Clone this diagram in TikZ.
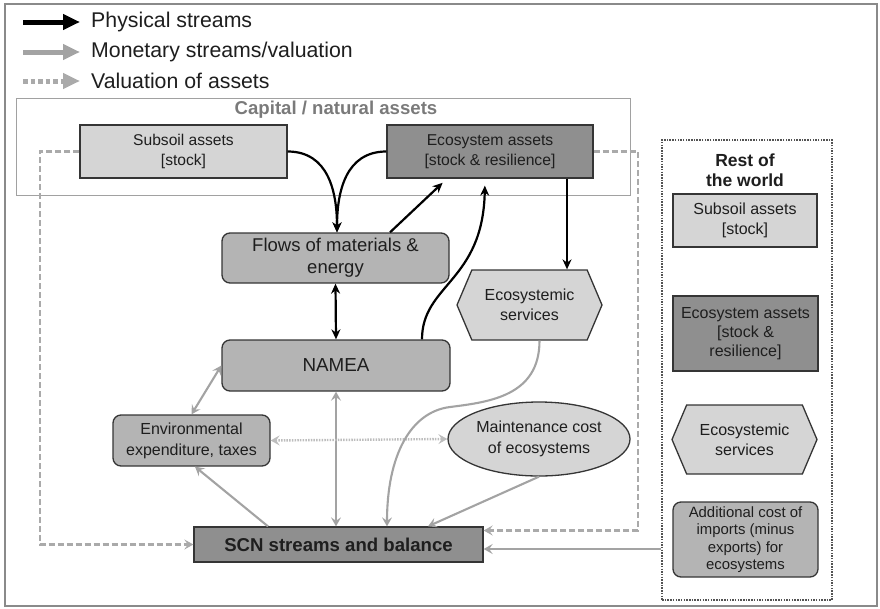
\documentclass[tikz,border=0pt]{standalone}
\usepackage{fontspec}
\setmainfont{Liberation Sans}
\usetikzlibrary{arrows.meta,shapes.geometric,shapes.symbols}

\definecolor{lightbox}{HTML}{D5D5D5}
\definecolor{midbox}{HTML}{B4B4B4}
\definecolor{darkbox}{HTML}{8F8F8F}
\definecolor{edgecol}{HTML}{353535}
\definecolor{monet}{HTML}{A3A3A3}
\definecolor{dashcol}{HTML}{AAAAAA}
\definecolor{dotcol}{HTML}{BDBDBD}
\definecolor{txt}{HTML}{1E1E1E}
\definecolor{frame}{HTML}{8A8A8A}
\definecolor{captitle}{HTML}{7A7A7A}

\tikzset{
  box/.style={draw=edgecol, line width=1.3pt, inner sep=0pt, align=center, text=txt},
  sqbox/.style={box, rectangle},
  rbox/.style={box, rectangle, rounded corners=8pt},
  hexa/.style={box, signal, signal to=east and west, signal pointer angle=134},
  phys/.style={draw=black, line width=2.2pt, -{Stealth[length=10pt,width=9pt]}},
  physboth/.style={draw=black, line width=2.2pt, {Stealth[length=10pt,width=9pt]}-{Stealth[length=10pt,width=9pt]}},
  mon/.style={draw=monet, line width=2.1pt, -{Stealth[length=9pt,width=10pt,inset=3.5pt]}},
  monboth/.style={draw=monet, line width=2.1pt, {Stealth[length=9pt,width=10pt,inset=3.5pt]}-{Stealth[length=9pt,width=10pt,inset=3.5pt]}},
  valdash/.style={draw=dashcol, line width=2.4pt, dash pattern=on 6pt off 3pt, -{Stealth[length=9pt,width=10pt,inset=3.5pt]}},
  dotboth/.style={draw=dotcol, line width=2.4pt, dash pattern=on 1.5pt off 1.2pt, {Stealth[length=9pt,width=10pt,inset=3.5pt]}-{Stealth[length=9pt,width=10pt,inset=3.5pt]}},
  legtext/.style={anchor=west, inner sep=0pt, text=txt, font=\fontsize{21.3}{25}\selectfont},
  f15/.style={font=\fontsize{15.6}{20}\selectfont},
  f16/.style={font=\fontsize{16}{21}\selectfont},
  f18/.style={font=\fontsize{18.5}{22}\selectfont},
}

\begin{document}
\begin{tikzpicture}[x=1pt,y=-1pt]
\useasboundingbox (0,0) rectangle (880,608);
% outer frame
\node[draw=frame, line width=1.4pt, minimum width=872pt, minimum height=602pt, inner sep=0pt] (outer) at (441,305) {};

% legend
\coordinate (l1a) at (23,22); \coordinate (l1b) at (80,22);
\coordinate (l2a) at (23,52); \coordinate (l2b) at (80,52);
\coordinate (l3a) at (23,81); \coordinate (l3b) at (80,81);
\draw[black, line width=5pt, -{Triangle[length=17pt,width=15pt]}] (l1a) -- (l1b);
\draw[monet, line width=5pt, -{Triangle[length=17pt,width=15pt]}] (l2a) -- (l2b);
\draw[dashcol, line width=5pt, dash pattern=on 4.5pt off 3pt, -{Triangle[length=17pt,width=15pt]}] (l3a) -- (l3b);
\node[legtext] (lt1) at (91,22) {Physical streams};
\node[legtext] (lt2) at (91,52) {Monetary streams/valuation};
\node[legtext] (lt3) at (91,81) {Valuation of assets};

% capital box
\node[draw=frame!80, line width=1pt, minimum width=614pt, minimum height=97pt, inner sep=0pt] (capbox) at (323,146.5) {};
\node[text=captitle, font=\fontsize{18.6}{22}\selectfont\bfseries] (captitle) at (336,110) {Capital / natural assets};

% rest of world box
\node[draw=edgecol!85, line width=1.3pt, dash pattern=on 1.5pt off 1.2pt, minimum width=170pt, minimum height=460pt, inner sep=0pt] (rowbox) at (747,370) {};
\node[align=center, text=txt, font=\fontsize{17.5}{20}\selectfont\bfseries] (rowtitle) at (745,170) {Rest of\\the world};

% main nodes
\node[sqbox, fill=lightbox, f15, minimum width=207pt, minimum height=53pt] (sub) at (183.5,151.5) {Subsoil assets\\{}[stock]};
\node[sqbox, fill=darkbox, font=\fontsize{15.7}{20}\selectfont, minimum width=206pt, minimum height=53pt] (eco) at (490,151.5) {Ecosystem assets\\{}[stock \& resilience]};
\node[rbox, fill=midbox, f18, minimum width=227pt, minimum height=50pt] (flows) at (335.5,258) {Flows of materials \&\\energy};
\node[rbox, fill=midbox, font=\fontsize{18.8}{22}\selectfont, minimum width=228pt, minimum height=51pt] (namea) at (336,365.5) {NAMEA};
\node[rbox, fill=midbox, f16, minimum width=157pt, minimum height=51pt] (env) at (191.5,440.5) {Environmental\\expenditure, taxes};
\node[sqbox, fill=darkbox, font=\fontsize{18.6}{22}\selectfont\bfseries, minimum width=289pt, minimum height=35pt] (scn) at (338.5,544.5) {SCN streams and balance};
\node[hexa, fill=lightbox, font=\fontsize{16}{20}\selectfont, minimum width=145pt, minimum height=70pt] (hex) at (529.5,305) {Ecosystemic\\services};
\node[box, ellipse, fill=lightbox, f16, minimum width=182pt, minimum height=74pt] (maint) at (539,439) {Maintenance cost\\of ecosystems};

% rest of world nodes
\node[sqbox, fill=lightbox, font=\fontsize{16}{20}\selectfont, minimum width=144pt, minimum height=53pt] (rsub) at (745,220.5) {Subsoil assets\\{}[stock]};
\node[sqbox, fill=darkbox, font=\fontsize{16}{19}\selectfont, minimum width=145pt, minimum height=75pt] (reco) at (745.5,333.5) {Ecosystem assets\\{}[stock \&\\resilience]};
\node[hexa, fill=lightbox, font=\fontsize{16}{20}\selectfont, minimum width=145pt, minimum height=69pt] (rhex) at (744.5,439.5) {Ecosystemic\\services};
\node[rbox, fill=midbox, font=\fontsize{14.9}{17.5}\selectfont, minimum width=145pt, minimum height=75pt] (radd) at (745.5,539.5) {Additional cost of\\imports (minus\\exports) for\\ecosystems};

% valuation (dashed) connectors
\coordinate (dl) at (40,0);
\coordinate (dr) at (638,0);
\draw[valdash] (sub.west) -- (sub.west -| dl) |- (scn.west);
\draw[valdash] (eco.east) -- (eco.east -| dr) |- ([yshift=14pt]scn.east);

% monetary connectors
\coordinate (rin) at ([yshift=-4.5pt]scn.east);
\draw[mon] (rin -| rowbox.west) -- (rin);
\draw[monboth] (env.north) -- (namea.west);
\draw[monboth] (namea.south) -- (namea.south |- scn.north);
\draw[dotboth] (env.east) -- (maint.west);
\draw[mon] ([xshift=-70.5pt]scn.north) -- ([xshift=3.5pt]env.south);
\draw[mon] ([xshift=10pt]hex.south) .. controls +(0,55) and +(40,-5) .. (450,407) .. controls +(-40,5) and +(0,-70) .. ([xshift=48.5pt]scn.north);
\draw[mon] (maint.south) -- ([xshift=89.5pt]scn.north);

% physical connectors
\draw[phys] (sub.east) to[out=0,in=90,looseness=1.1] ([xshift=1.5pt]flows.north);
\draw[phys] (eco.west) to[out=180,in=90,looseness=1.1] ([xshift=1.5pt]flows.north);
\draw[phys, shorten >=6pt] ([xshift=54.5pt]flows.north) -- ([xshift=-43pt]eco.south);
\draw[phys] ([xshift=77pt]eco.south) -- ([xshift=37.5pt]hex.north);
\draw[physboth] (flows.south) -- (namea.north);
\draw[phys, shorten >=7pt] ([xshift=86pt]namea.north) .. controls +(0,-55) and +(-2,103) .. ([xshift=-5pt]eco.south);
\end{tikzpicture}
\end{document}
